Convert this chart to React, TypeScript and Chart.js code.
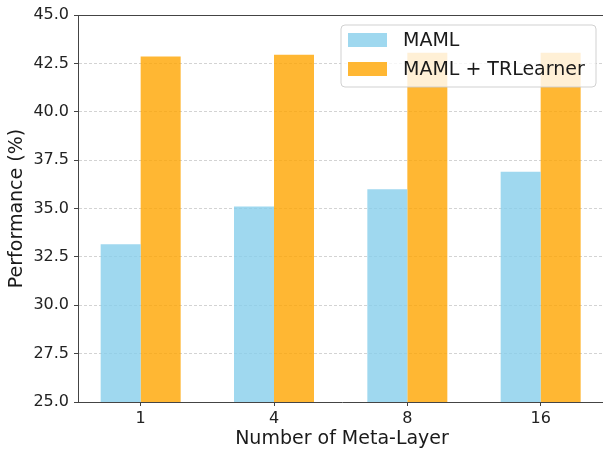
import React, { useEffect, useRef } from "react";
import { Chart, registerables } from "chart.js";

Chart.register(...registerables);

const CATEGORIES = ["1", "4", "8", "16"];
const MAML = [33.15, 35.1, 36.0, 36.9];
const MAML_TRL = [42.85, 42.95, 43.05, 43.05];
const SERIES_NAMES = ["MAML", "MAML + TRLearner"];
const Y_TICKS = [25, 27.5, 30, 32.5, 35, 37.5, 40, 42.5, 45];

const COLORS = ["rgba(135,206,235,0.8)", "rgba(255,165,0,0.8)"];
const AXIS_COLOR = "#444";
const FONT = "DejaVu Sans";

const overlayPlugin = {
  id: "overlay",
  afterDatasetsDraw(chart: any) {
    const { ctx, chartArea } = chart;
    ctx.save();
    // top spine
    ctx.strokeStyle = AXIS_COLOR;
    ctx.lineWidth = 1;
    ctx.beginPath();
    ctx.moveTo(chartArea.left, chartArea.top + 0.5);
    ctx.lineTo(chartArea.right, chartArea.top + 0.5);
    ctx.stroke();

    // legend (anchored to the visible right edge)
    const w = 255;
    const h = 62;
    const x = chartArea.left + 263;
    const y = chartArea.top + 10;
    const r = 4;
    ctx.beginPath();
    ctx.moveTo(x + r, y);
    ctx.lineTo(x + w - r, y);
    ctx.arcTo(x + w, y, x + w, y + r, r);
    ctx.lineTo(x + w, y + h - r);
    ctx.arcTo(x + w, y + h, x + w - r, y + h, r);
    ctx.lineTo(x + r, y + h);
    ctx.arcTo(x, y + h, x, y + h - r, r);
    ctx.lineTo(x, y + r);
    ctx.arcTo(x, y, x + r, y, r);
    ctx.closePath();
    ctx.fillStyle = "rgba(255,255,255,0.8)";
    ctx.fill();
    ctx.strokeStyle = "rgba(204,204,204,0.9)";
    ctx.lineWidth = 1;
    ctx.stroke();

    ctx.font = `19px "${FONT}"`;
    ctx.textBaseline = "middle";
    ctx.textAlign = "left";
    SERIES_NAMES.forEach((name, i) => {
      const cy = y + 15 + i * 29;
      ctx.fillStyle = COLORS[i];
      ctx.fillRect(x + 7, cy - 7, 39, 14);
      ctx.fillStyle = "#1a1a1a";
      ctx.fillText(name, x + 62, cy + 1);
    });
    ctx.restore();
  },
};

export default function App() {
  const ref = useRef<HTMLCanvasElement | null>(null);

  useEffect(() => {
    if (!ref.current) return;
    const chart = new Chart(ref.current, {
      type: "bar",
      data: {
        datasets: [
          {
            label: SERIES_NAMES[0],
            data: MAML.map((v, i) => ({ x: i, y: v })),
            backgroundColor: COLORS[0],
            borderWidth: 0,
          },
          {
            label: SERIES_NAMES[1],
            data: MAML_TRL.map((v, i) => ({ x: i, y: v })),
            backgroundColor: COLORS[1],
            borderWidth: 0,
          },
        ],
      },
      options: {
        animation: false,
        responsive: true,
        maintainAspectRatio: false,
        devicePixelRatio: 1,
        datasets: { bar: { categoryPercentage: 0.6, barPercentage: 1 } },
        layout: { padding: { top: 15, right: 0, left: 0, bottom: 0 } },
        plugins: { legend: { display: false }, tooltip: { enabled: false } },
        scales: {
          x: {
            type: "linear",
            min: -0.47,
            max: 3.49,
            offset: false,
            afterBuildTicks: (s: any) => {
              s.ticks = CATEGORIES.map((_, i) => ({ value: i }));
            },
            afterFit: (s: any) => {
              s.height = 48;
            },
            ticks: {
              callback: (v: any) => CATEGORIES[Math.round(Number(v))] ?? "",
              font: { family: FONT, size: 16 },
              color: "#222",
              padding: 3,
              maxRotation: 0,
              autoSkip: false,
            },
            grid: {
              offset: false,
              drawOnChartArea: false,
              drawTicks: true,
              tickLength: 4,
              tickColor: AXIS_COLOR,
              tickWidth: 1,
            },
            border: { color: AXIS_COLOR, width: 1 },
            title: {
              display: true,
              text: "Number of Meta-Layer",
              font: { family: FONT, size: 19 },
              color: "#1a1a1a",
              padding: { top: 0, bottom: 0 },
            },
          },
          y: {
            min: 25,
            max: 45,
            afterBuildTicks: (s: any) => {
              s.ticks = Y_TICKS.map((v) => ({ value: v }));
            },
            afterFit: (s: any) => {
              s.width = 78;
            },
            ticks: {
              callback: (v: any) => Number(v).toFixed(1),
              font: { family: FONT, size: 16 },
              color: "#222",
              padding: 5,
            },
            grid: {
              color: "rgba(185,185,185,0.8)",
              lineWidth: 0.8,
              drawTicks: true,
              tickLength: 4,
              tickColor: AXIS_COLOR,
              tickWidth: 1,
              tickBorderDash: [],
            },
            border: { color: AXIS_COLOR, width: 1, dash: [3, 2] },
            title: {
              display: true,
              text: "Performance (%)",
              font: { family: FONT, size: 19 },
              color: "#1a1a1a",
              padding: { top: 6, bottom: 0 },
            },
          },
        },
      },
      plugins: [overlayPlugin],
    } as any);
    return () => chart.destroy();
  }, []);

  return (
    <div style={{ position: "absolute", left: 0, top: 0, width: 603, height: 450, overflow: "hidden", background: "#fff" }}>
      <div style={{ position: "relative", width: 606, height: 450 }}>
        <canvas ref={ref} />
      </div>
    </div>
  );
}
